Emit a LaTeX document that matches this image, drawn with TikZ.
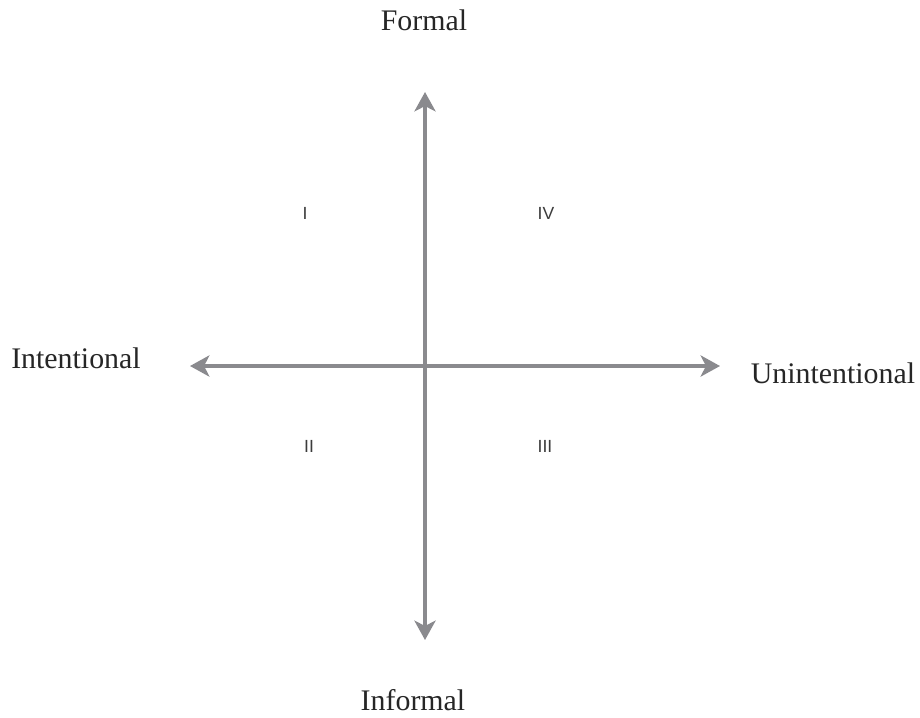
\documentclass[tikz,border=0pt]{standalone}
\usepackage{fontspec}
\setmainfont{Liberation Serif}
\setsansfont{Liberation Sans}
\usepackage{xcolor}
\usetikzlibrary{arrows.meta}
\definecolor{axisgray}{RGB}{138,138,142}
\definecolor{quadtext}{RGB}{60,60,60}

\begin{document}
\begin{tikzpicture}[>={Stealth[length=11pt, width=12pt, inset=3pt]},
  pole/.style={font=\fontsize{17}{20}\selectfont, text=black!85, inner sep=0pt},
  quad/.style={font=\sffamily\fontsize{10}{12}\selectfont, text=quadtext, inner sep=0pt},
  axis/.style={<->, line width=2.3pt, axisgray}]
\useasboundingbox (-8.5,-7.02) rectangle (9.9,7.32);
% axis ends
\coordinate (up) at (0,5.48);
\coordinate (down) at (0,-5.48);
\coordinate (lft) at (-4.7,0);
\coordinate (rgt) at (5.9,0);
% pole labels
\node[pole] (formal) at (-0.02,6.92) {Formal};
\node[pole] (informal) at (-0.24,-6.68) {Informal};
\node[pole] (intent) at (-6.98,0.16) {Intentional};
\node[pole] (unintent) at (8.16,-0.14) {Unintentional};
% quadrants
\node[quad] (q1) at (-2.4,3.06) {I};
\node[quad] (q4) at (2.42,3.06) {IV};
\node[quad] (q2) at (-2.32,-1.6) {II};
\node[quad] (q3) at (2.4,-1.6) {III};
% the two axes
\draw[axis] (down) -- (up);
\draw[axis] (lft) -- (rgt);
\end{tikzpicture}
\end{document}
